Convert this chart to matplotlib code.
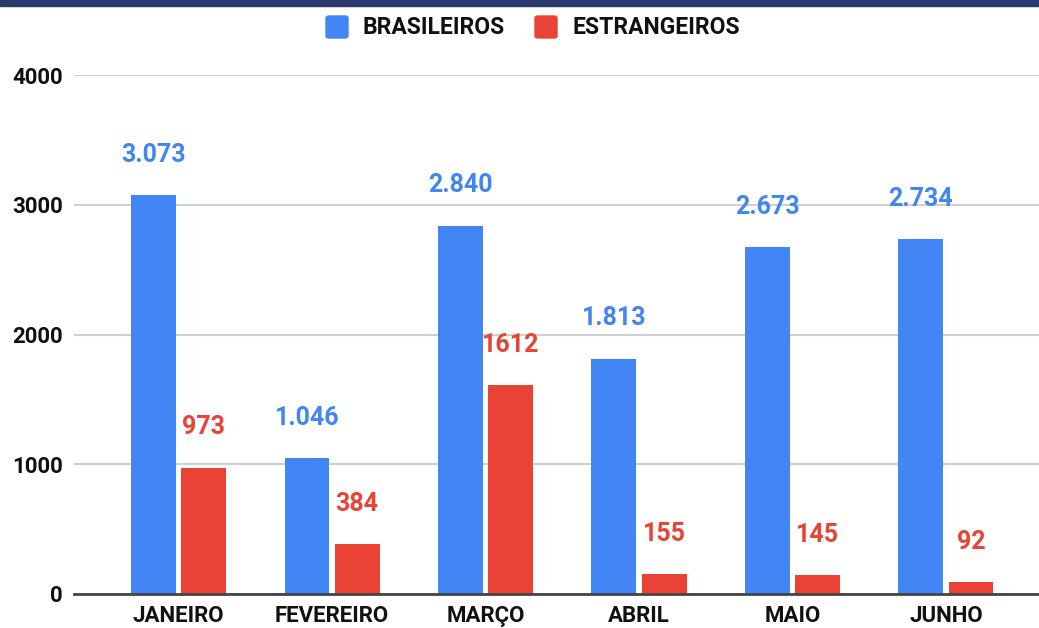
import matplotlib
matplotlib.use("Agg")
import matplotlib.pyplot as plt
from matplotlib.patches import FancyBboxPatch, Rectangle
import numpy as np

months = ["JANEIRO", "FEVEREIRO", "MARÇO", "ABRIL", "MAIO", "JUNHO"]
series_names = ["BRASILEIROS", "ESTRANGEIROS"]
brasileiros = [3073, 1046, 2840, 1813, 2673, 2734]
estrangeiros = [973, 384, 1612, 155, 145, 92]
brasileiros_labels = ["3.073", "1.046", "2.840", "1.813", "2.673", "2.734"]
estrangeiros_labels = ["973", "384", "1612", "155", "145", "92"]
yticks = [0, 1000, 2000, 3000, 4000]

BLUE = "#4285F4"
RED = "#EA4335"
W, H = 1039, 628

plt.rcParams['font.family'] = ['Roboto', 'DejaVu Sans']

fig = plt.figure(figsize=(W / 100, H / 100), dpi=100)
ax = fig.add_axes([74 / W, (H - 594) / H, (W - 74) / W, (594 - 75) / H])

x = np.arange(len(months))
bw = 0.293
off = 0.163
ax.bar(x - off, brasileiros, bw, color=BLUE, zorder=3)
ax.bar(x + off, estrangeiros, bw, color=RED, zorder=3)

for xi, v, lab in zip(x, brasileiros, brasileiros_labels):
    ax.annotate(lab, (xi - off, v), xytext=(0, 29), textcoords="offset points",
                ha="center", va="center", color=BLUE, fontsize=18, fontweight="bold")
for xi, v, lab in zip(x, estrangeiros, estrangeiros_labels):
    ax.annotate(lab, (xi + off, v), xytext=(0, 29), textcoords="offset points",
                ha="center", va="center", color=RED, fontsize=18, fontweight="bold")

ax.set_xlim(-0.681, 5.606)
ax.set_ylim(0, 4000)
ax.set_yticks(yticks)
ax.set_yticklabels([str(t) for t in yticks], fontsize=16, fontweight="bold", color="#111111")
ax.set_xticks(x)
ax.set_xticklabels(months, fontsize=16, fontweight="bold", color="#111111")
ax.tick_params(axis="both", length=0)
ax.tick_params(axis="y", pad=8)
ax.tick_params(axis="x", pad=8)
ax.grid(axis="y", color="#d0d0d0", linewidth=1.5, zorder=0)
for s in ["top", "right", "left"]:
    ax.spines[s].set_visible(False)
ax.spines["bottom"].set_color("#444444")
ax.spines["bottom"].set_linewidth(2)
ax.spines["bottom"].set_zorder(4)

# top band
fig.patches.append(Rectangle((0, (H - 6) / H), 1, 6 / H, transform=fig.transFigure,
                             color="#2b3a6b", zorder=10))

# legend
leg_items = [(326, 363, series_names[0], BLUE), (535, 572, series_names[1], RED)]
for px, tx, name, col in leg_items:
    fig.patches.append(FancyBboxPatch((px / W, (H - 38) / H), 22 / W, 22 / H,
                                      boxstyle="round,pad=0,rounding_size=0.003",
                                      transform=fig.transFigure, color=col))
    fig.text(tx / W, (H - 27.5) / H, name, fontsize=16.5, fontweight="bold",
             color="#111111", va="center", ha="left")

fig.savefig("out.png", dpi=100, facecolor="white")
